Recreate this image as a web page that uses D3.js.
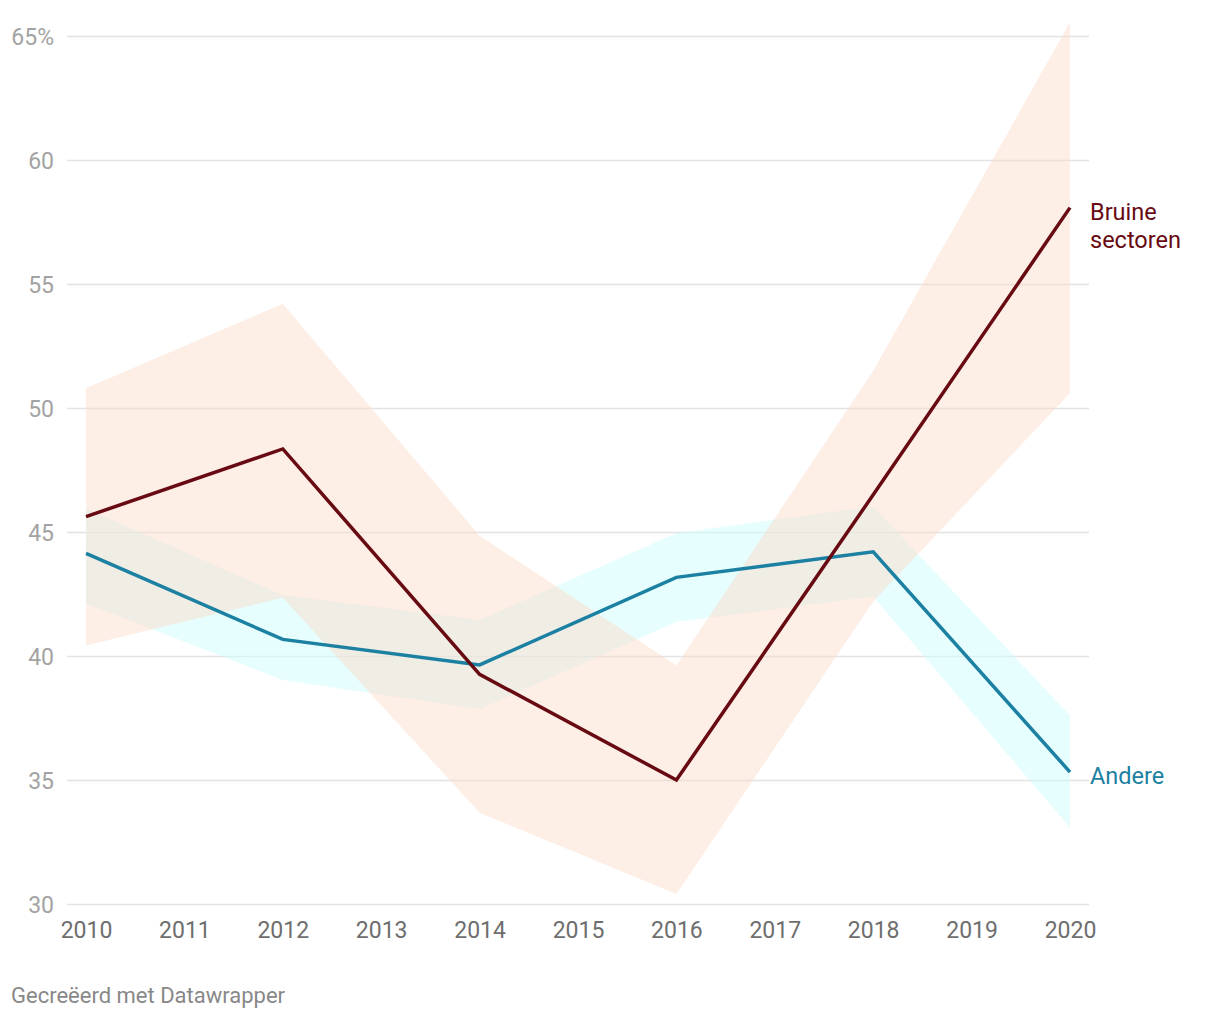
<!DOCTYPE html>
<html>
<head>
<meta charset="utf-8">
<script src="https://cdn.jsdelivr.net/npm/d3@7"></script>
<style>
  html, body { margin: 0; padding: 0; background: #fff; }
  svg { display: block; font-family: Roboto, "Noto Sans", sans-serif; }
</style>
</head>
<body>
<svg id="chart" width="1220" height="1020"></svg>
<script>
// ---- data ----
const years = [2010, 2012, 2014, 2016, 2018, 2020];
const bruine   = [45.62, 48.35, 39.26, 35.0, 46.5, 58.08];
const bruineHi = [50.8, 54.2, 44.85, 39.62, 51.5, 65.55];
const bruineLo = [40.42, 42.35, 33.68, 30.4, 42.2, 50.6];
const andere   = [44.14, 40.67, 39.64, 43.17, 44.2, 35.32];
const andereHi = [45.95, 42.45, 41.45, 44.95, 46.03, 37.6];
const andereLo = [42.12, 39.03, 37.86, 41.38, 42.4, 33.08];
const xTicks = [2010, 2011, 2012, 2013, 2014, 2015, 2016, 2017, 2018, 2019, 2020];
const yTicks = [30, 35, 40, 45, 50, 55, 60, 65];
const seriesNames = ["Bruine", "sectoren", "Andere"];

const svg = d3.select("#chart");
const x = d3.scaleLinear().domain([2010, 2020]).range([86, 1070]);
const y = d3.scaleLinear().domain([30, 65]).range([904, 36]);

// gridlines + y labels
const yAxis = d3.axisLeft(y).tickValues(yTicks)
  .tickSize(-(1089 - 67))
  .tickFormat(d => d === 65 ? "65%" : d);
const gy = svg.append("g").attr("transform", "translate(67,0)").call(yAxis);
gy.select(".domain").remove();
gy.selectAll(".tick line").attr("stroke", "#e3e3e3").attr("stroke-width", 1.5);
gy.selectAll(".tick text").attr("x", -13).attr("dy", "0.35em")
  .attr("fill", "#a3a3a3").style("font-size", "23px").style("font-family", "Roboto");

// x labels
const xAxis = d3.axisBottom(x).tickValues(xTicks).tickSize(0).tickFormat(d3.format("d"));
const gx = svg.append("g").attr("transform", "translate(0,904)").call(xAxis);
gx.select(".domain").remove();
gx.selectAll(".tick text").attr("y", 26).attr("dy", "0.35em")
  .attr("fill", "#6e6e6e").style("font-size", "23px").style("font-family", "Roboto");

// bands
const idx = years.map((_, i) => i);
const area = (hi, lo) => d3.area()
  .x(i => x(years[i])).y0(i => y(lo[i])).y1(i => y(hi[i]));
svg.append("path").datum(idx).attr("d", area(andereHi, andereLo))
  .attr("fill", "rgb(205,253,253)").attr("fill-opacity", 0.5);
svg.append("path").datum(idx).attr("d", area(bruineHi, bruineLo))
  .attr("fill", "rgb(251,220,203)").attr("fill-opacity", 0.48);

// lines
const line = vals => d3.line().x(i => x(years[i])).y(i => y(vals[i]));
svg.append("path").datum(idx).attr("d", line(andere))
  .attr("fill", "none").attr("stroke", "#1b80a1").attr("stroke-width", 3.5)
  .attr("stroke-linejoin", "miter");
svg.append("path").datum(idx).attr("d", line(bruine))
  .attr("fill", "none").attr("stroke", "#670a12").attr("stroke-width", 3.5)
  .attr("stroke-linejoin", "miter");

// series labels
const last = years.length - 1;
svg.append("text").attr("x", 1090).attr("y", y(bruine[last]) + 4).attr("dy", "0.35em")
  .attr("fill", "#670a12").style("font-size", "23.5px").text(seriesNames[0]);
svg.append("text").attr("x", 1090).attr("y", y(bruine[last]) + 32).attr("dy", "0.35em")
  .attr("fill", "#670a12").style("font-size", "23.5px").text(seriesNames[1]);
svg.append("text").attr("x", 1090).attr("y", y(andere[last]) + 4).attr("dy", "0.35em")
  .attr("fill", "#1b80a1").style("font-size", "23.5px").text(seriesNames[2]);

// footer
svg.append("text").attr("x", 11).attr("y", 1003)
  .attr("fill", "#888888").style("font-size", "22px").text("Gecreëerd met Datawrapper");
</script>
</body>
</html>
